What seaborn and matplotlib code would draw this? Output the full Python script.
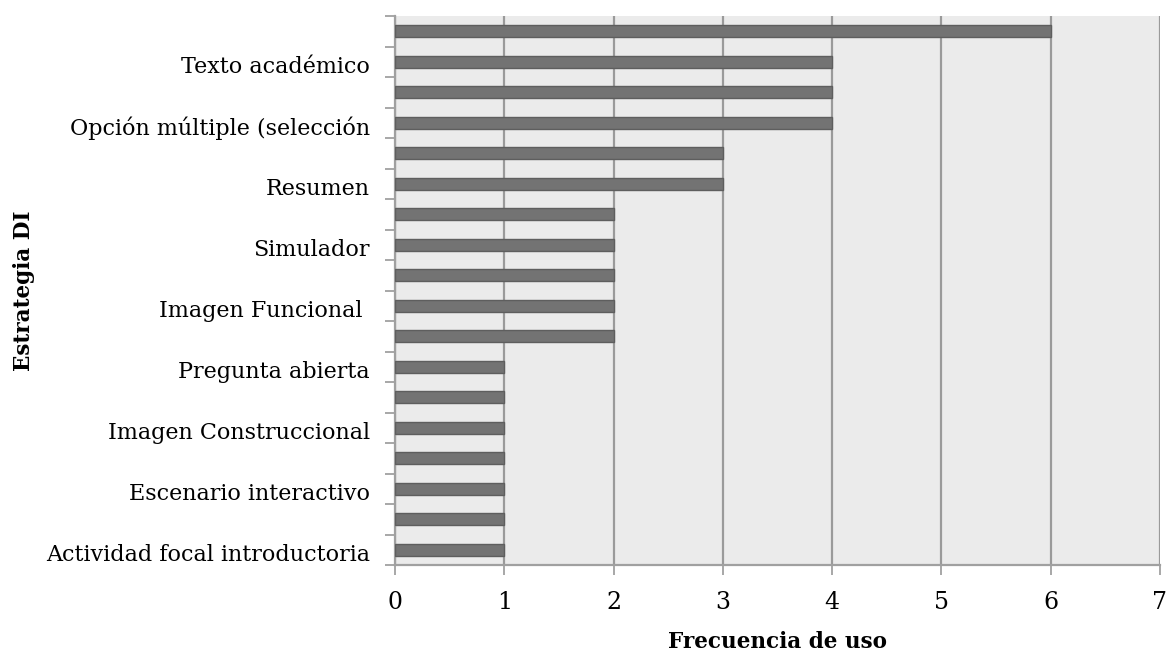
import matplotlib
matplotlib.use("Agg")
import matplotlib.pyplot as plt
import matplotlib.transforms as mtransforms
import seaborn as sns
import pandas as pd
import numpy as np

# Strategy rows, bottom to top; only every other row carries a visible label
etiquetas = [
    "Actividad focal introductoria", "",
    "Escenario interactivo", "",
    "Imagen Construccional", "",
    "Pregunta abierta", "",
    "Imagen Funcional ", "",
    "Simulador", "",
    "Resumen", "",
    "Opción múltiple (selección", "",
    "Texto académico", "",
]
frecuencia = [1, 1, 1, 1, 1, 1, 1, 2, 2, 2, 2, 2, 3, 3, 4, 4, 4, 6]
xticks = [0, 1, 2, 3, 4, 5, 6, 7]

sns.set_theme(style="white")
plt.rcParams["font.family"] = ["DejaVu Serif"]
plt.rcParams["text.color"] = "black"
plt.rcParams["axes.labelcolor"] = "black"
plt.rcParams["xtick.labelcolor"] = "black"
plt.rcParams["ytick.labelcolor"] = "black"

df = pd.DataFrame({
    "fila": [f"r{i:02d}" for i in range(len(frecuencia))],
    "frecuencia": frecuencia,
})
orden = list(df["fila"][::-1])  # top row first

fig = plt.figure(figsize=(11.7, 6.52), dpi=100)
ax = fig.add_axes([395 / 1170, 1 - 565 / 652, 765 / 1170, 549 / 652])
ax.set_facecolor("#ebebeb")

sns.barplot(data=df, x="frecuencia", y="fila", order=orden, orient="h",
            color="#737373", edgecolor="#5e5e5e", linewidth=1.0,
            width=0.4, saturation=1, ax=ax, zorder=3)

ax.set_xlim(0, 7)
ax.set_ylim(len(frecuencia) - 0.5, -0.5)
ax.set_xticks(xticks)
ax.set_xticklabels([str(t) for t in xticks], fontsize=17)
ax.grid(axis="x", color="#9a9a9a", linewidth=1.6, zorder=0)
ax.grid(axis="y", visible=False)
ax.tick_params(axis="x", length=7, width=1.3, color="#a0a0a0", pad=12,
               direction="out", bottom=True)

# labels at row centres, tick marks at row boundaries
ax.set_yticks(range(len(frecuencia)))
ax.set_yticklabels(etiquetas[::-1], fontsize=16)
ax.tick_params(axis="y", which="major", length=0, pad=18)
ax.set_yticks(np.arange(-0.5, len(frecuencia), 1.0), minor=True)
ax.tick_params(axis="y", which="minor", length=7, width=1.3,
               color="#a0a0a0", direction="out", left=True)
shift = mtransforms.ScaledTranslation(0, -2 / 72, fig.dpi_scale_trans)
for lbl in ax.get_yticklabels():
    lbl.set_transform(lbl.get_transform() + shift)

for side in ("top", "right"):
    ax.spines[side].set_visible(False)
for side in ("left", "bottom"):
    ax.spines[side].set_color("#a0a0a0")
    ax.spines[side].set_linewidth(1.6)

ax.set_xlabel("Frecuencia de uso", fontsize=15.5, fontweight="bold", labelpad=12)
ax.set_ylabel("Estrategia DI", fontsize=15.5, fontweight="bold", labelpad=8)

fig.savefig("out.png", dpi=100)
